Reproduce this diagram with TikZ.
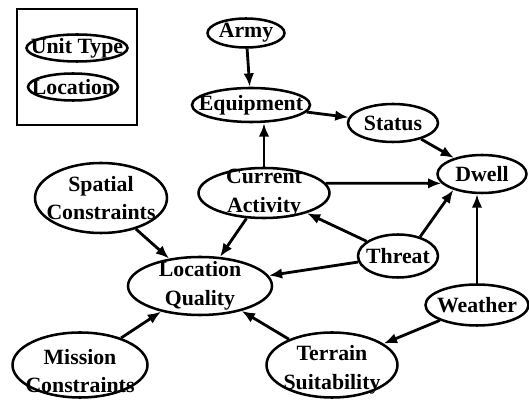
\documentclass[tikz,border=0pt]{standalone}
\usepackage{fontspec}
\setmainfont{Liberation Serif}
\usetikzlibrary{shapes.geometric, arrows.meta}

\begin{document}
\begin{tikzpicture}[x = 0.025cm, y = -0.025cm, > = {Latex[length = 9.5pt, width = 7.5pt]},
	var/.style 2 args = {ellipse, draw, line width = 1.8pt, inner sep = 0pt,
		minimum width = #1*0.025cm, minimum height = #2*0.025cm},
	txt/.style = {inner sep = 0pt, align = center, font = \fontsize{15.5}{20.5}\selectfont\bfseries},
	link/.style = {->, line width = 2pt}]

	% Page frame
	
	\useasboundingbox (0, 0) rectangle (529, 400);
	
	% Legend
	
	\draw [line width = 2pt] (17, 9) rectangle (137, 125);
	\node [var = {101}{27}, label = {[txt]center:Unit Type}] (unit-type) at (77, 48) {};
	\node [var = {90}{27}, label = {[txt]center:Location}] (location) at (73, 87) {};
	
	% Variables
	
	\node [var = {77}{29}, label = {[txt]center:Army}] (army) at (246, 33) {};
	\node [var = {118}{34}, label = {[txt]center:Equipment}] (equip) at (251, 105) {};
	\node [var = {90}{38}, label = {[txt]center:Status}] (status) at (393, 123) {};
	\node [var = {89}{38}, label = {[txt]center:Dwell}] (dwell) at (482, 174) {};
	\node [var = {131}{50}, label = {[txt]center:Current\\Activity}] (cur-act) at (264, 193) {};
	\node [var = {132}{70}, label = {[txt]center:Spatial\\Constraints}] (spat-con) at (101, 198) {};
	\node [var = {80}{43}, label = {[txt]center:Threat}] (threat) at (398, 256) {};
	\node [var = {144}{58}, label = {[txt]center:Location\\Quality}] (loc-qual) at (200, 286) {};
	\node [var = {103}{41}, label = {[txt]center:Weather}] (weather) at (477, 305) {};
	\node [var = {135}{65}, label = {[txt, yshift = -0.15cm]center:Mission\\Constraints}] (mis-con) at (80, 365) {};
	\node [var = {131}{65}, label = {[txt, yshift = -0.12cm]center:Terrain\\Suitability}] (ter-suit) at (332, 365) {};
	
	% Dependencies
	
	\draw [link] (army) -- (equip);
	\draw [link] (cur-act.north) -- (cur-act.north |- equip.south);
	\draw [link] (equip) -- (status);
	\draw [link] (status) -- (dwell);
	\draw [link] (cur-act.9) -- (dwell.193);
	\draw [link] (threat.41) -- (dwell.209);
	\draw [link] (threat) -- (cur-act);
	\draw [link] (threat) -- (loc-qual);
	\draw [link] (weather.north) -- (weather.north |- dwell.south);
	\draw [link] (weather) -- (ter-suit);
	\draw [link] (ter-suit) -- (loc-qual);
	\draw [link] (spat-con) -- (loc-qual);
	\draw [link] (cur-act) -- (loc-qual);
	\draw [link] (mis-con) -- (loc-qual);
	
\end{tikzpicture}
\end{document}
